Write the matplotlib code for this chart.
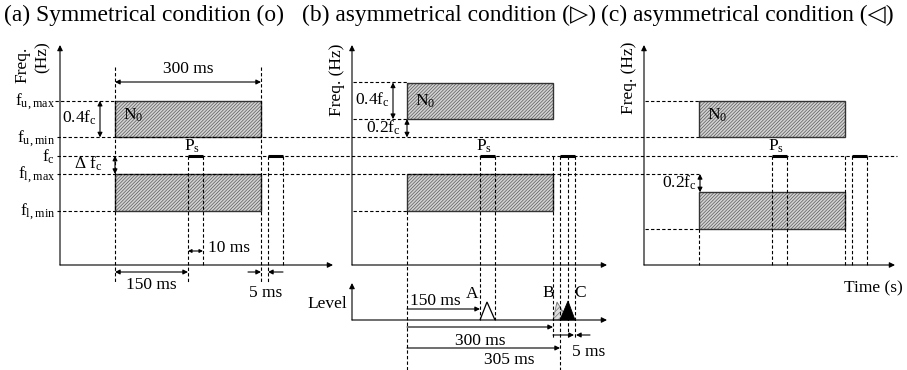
import matplotlib
matplotlib.use("Agg")
import matplotlib.pyplot as plt
from matplotlib.patches import Rectangle, Polygon
import numpy as np

plt.rcParams['font.family'] = ['Liberation Serif', 'DejaVu Sans']
plt.rcParams['mathtext.fontset'] = 'custom'
plt.rcParams['mathtext.rm'] = 'Liberation Serif'
plt.rcParams['mathtext.default'] = 'rm'
plt.rcParams['hatch.linewidth'] = 0.5

# --- schematic values ---
titles = ['(a) Symmetrical condition (o)', '(b) asymmetrical condition (\u25B7)',
          '(c) asymmetrical condition (\u25C1)']
# time marks (ms) and their drawn offsets (schematic, not to scale)
t_ms = [0, 150, 160, 300, 305, 310, 315]
t_px = [0, 73, 88, 146, 153, 161, 168]
noise_on, noise_off = 0, 300
probe1 = (150, 160)
probe2 = (305, 315)
# noise bands in units of fc: (low, high) for upper and lower band
noise_a = [(1.2, 1.6), (0.4, 0.8)]
noise_b = [(1.4, 1.8), (0.4, 0.8)]
noise_c = [(1.2, 1.6), (0.2, 0.6)]
bands = [noise_a, noise_b, noise_c]
freq_labels_a = ['f$_{u,max}$', 'f$_{u,min}$', 'f$_{c}$', 'f$_{l,max}$', 'f$_{l,min}$']
freq_levels_a = [1.6, 1.2, 1.0, 0.8, 0.4]

# --- layout ---
box_left = [115, 407, 699]
title_x = [4, 302, 601]
axis_gap = 55
fc_y = 155.7
px_per_fc = 91.5
base_y = 265
top_y = 45

fig = plt.figure(figsize=(9.07, 3.70), dpi=100)
ax = fig.add_axes([0, 0, 1, 1])
ax.set_xlim(0, 907)
ax.set_ylim(370, 0)
ax.axis('off')

DASH = (0, (3, 2))
FS = 12.5


def tx(p, t):
    return box_left[p] + np.interp(t, t_ms, t_px)


def fy(f):
    return fc_y - (f - 1) * px_per_fc


def dash(x0, y0, x1, y1):
    ax.plot([x0, x1], [y0, y1], ls=DASH, lw=0.8, color='k')


def arrow(x0, y0, x1, y1, style='-|>', ms=7):
    ax.annotate('', xy=(x1, y1), xytext=(x0, y0),
                arrowprops=dict(arrowstyle=style, lw=0.8, color='k',
                                shrinkA=0, shrinkB=0, mutation_scale=ms))


def txt(x, y, s, ha='center', va='center', size=FS, **kw):
    ax.text(x, y, s, ha=ha, va=va, fontsize=size, **kw)


# titles
for x, t in zip(title_x, titles):
    txt(x, 15, t, ha='left', size=16.9)

# long horizontal reference lines
dash(57, fy(1.2), box_left[2], fy(1.2))
dash(57, fy(1.0), 897, fy(1.0))
dash(57, fy(0.8), box_left[2], fy(0.8))

for p in range(3):
    ax0 = box_left[p] - axis_gap
    x_on, x_off = tx(p, noise_on), tx(p, noise_off)
    # axes
    arrow(ax0, base_y, ax0, top_y, ms=8)
    end = 333 if p == 0 else (607 if p == 1 else 895)
    arrow(ax0, base_y, end, base_y, ms=8)
    # noise bands
    for lo, hi in bands[p]:
        ax.add_patch(Rectangle((x_on, fy(hi)), x_off - x_on, fy(lo) - fy(hi),
                               facecolor='#d2d2d2', edgecolor='#5a5a5a',
                               hatch='/' * 10, lw=0))
        ax.add_patch(Rectangle((x_on, fy(hi)), x_off - x_on, fy(lo) - fy(hi),
                               fill=False, edgecolor='#333333', lw=1.0))
    # probes on fc
    for a, b in [probe1, probe2]:
        ax.plot([tx(p, a), tx(p, b)], [fc_y, fc_y], color='k', lw=2.2,
                solid_capstyle='butt')
    txt(tx(p, 152.5), fc_y - 9, 'P$_s$')
    up_hi = bands[p][0][1]
    txt(x_on + 8, fy(up_hi) + 15 if p != 1 else fy(up_hi) + 19, 'N$_0$',
        ha='left')

# ---- panel (a) ----
p = 0
dash(tx(p, 0), 67, tx(p, 0), 282)
dash(tx(p, 300), 67, tx(p, 300), 282)
dash(tx(p, 150), fc_y, tx(p, 150), 282)
dash(tx(p, 160), fc_y, tx(p, 160), base_y)
dash(tx(p, 305), fc_y, tx(p, 305), 282)
dash(tx(p, 315), fc_y, tx(p, 315), base_y)
for lab, f in zip(freq_labels_a, freq_levels_a):
    txt(55, fy(f) + 1, lab, ha='right')
dash(55, fy(1.6), box_left[0], fy(1.6))
dash(57, fy(0.4), box_left[0], fy(0.4))
arrow(tx(p, 0), 82, tx(p, 300), 82, '<|-|>')
txt((tx(p, 0) + tx(p, 300)) / 2, 69, '300 ms')
arrow(100, fy(1.6), 100, fy(1.2), '<|-|>')
txt(79, 118, '0.4f$_c$')
arrow(tx(p, 0), fc_y, tx(p, 0), fy(0.8), '<|-|>')
txt(88, 164, '\u0394 f$_c$')
arrow(tx(p, 150), 251, tx(p, 160), 251, '<|-|>', ms=5)
txt(tx(p, 160) + 5, 248, '10 ms', ha='left')
arrow(tx(p, 0), 272, tx(p, 150), 272, '<|-|>')
txt((tx(p, 0) + tx(p, 150)) / 2, 285, '150 ms')
arrow(tx(p, 300) - 13, 272, tx(p, 300), 272)
arrow(tx(p, 315), 272, tx(p, 305), 272)
txt(266, 293, '5 ms')
txt(22, 65, 'Freq.', rotation=90)
txt(43, 57, '(Hz)', rotation=90)

# ---- panel (b) ----
p = 1
dash(tx(p, 0), fy(0.4), tx(p, 0), 370)
for t in [150, 160]:
    dash(tx(p, t), fc_y, tx(p, t), 320)
for t in [300, 310, 315]:
    dash(tx(p, t), fc_y, tx(p, t), 338)
dash(tx(p, 305), fc_y, tx(p, 305), 370)
ax0 = box_left[p] - axis_gap
dash(ax0 + 1, fy(1.8), tx(p, 0), fy(1.8))
dash(ax0 + 1, fy(1.4), tx(p, 0), fy(1.4))
dash(ax0 + 1, fy(0.4), tx(p, 0), fy(0.4))
arrow(393, fy(1.8), 393, fy(1.4), '<|-|>')
txt(372, 100, '0.4f$_c$')
arrow(tx(p, 0), fy(1.4), tx(p, 0), fy(1.2), '<|-|>')
txt(383, 128, '0.2f$_c$')
txt(337, 80, 'Freq. (Hz)', rotation=90)
# level panel
lvl_y = 320
arrow(ax0, lvl_y, ax0, 283, ms=8)
arrow(ax0, lvl_y, 607, lvl_y, ms=8)
txt(327, 304, 'Level')
apex = 302
ax.add_patch(Polygon([[tx(p, 150), lvl_y], [tx(p, 155) - 0.5, apex], [tx(p, 160), lvl_y]],
                     closed=False, fill=False, edgecolor='k', lw=0.9))
ax.add_patch(Polygon([[tx(p, 300), lvl_y], [tx(p, 305) - 3, apex], [tx(p, 310), lvl_y]],
                     closed=True, facecolor='#dddddd', edgecolor='#777777',
                     hatch='//////', lw=0.6))
ax.add_patch(Polygon([[tx(p, 305), lvl_y], [tx(p, 310), apex - 1], [tx(p, 315), lvl_y]],
                     closed=True, facecolor='k', edgecolor='k', lw=0.6))
txt(472, 294, 'A')
txt(548, 293, 'B')
txt(580, 293, 'C')
arrow(tx(p, 0), 309, tx(p, 150), 309)
txt(435, 301, '150 ms')
arrow(tx(p, 0), 327, tx(p, 300), 327)
txt(480, 341, '300 ms')
arrow(tx(p, 0), 348, tx(p, 305), 348)
txt(509, 360, '305 ms')
arrow(tx(p, 300), 335, tx(p, 310) + 6, 335)
arrow(tx(p, 315) + 15, 335, tx(p, 315) + 1, 335)
txt(589, 352, '5 ms')

# ---- panel (c) ----
p = 2
dash(tx(p, 0), fy(0.2), tx(p, 0), base_y)
for t in [150, 160, 300, 305, 315]:
    dash(tx(p, t), fc_y, tx(p, t), base_y)
ax0 = box_left[p] - axis_gap
dash(ax0 + 1, fy(1.6), tx(p, 0), fy(1.6))
dash(ax0 + 1, fy(0.2), tx(p, 0), fy(0.2))
arrow(tx(p, 0) + 1, fy(0.8), tx(p, 0) + 1, fy(0.6), '<|-|>')
txt(679, 183, '0.2f$_c$')
txt(629, 78, 'Freq. (Hz)', rotation=90)
txt(873, 288, 'Time (s)')

fig.savefig('out.png', dpi=100)
